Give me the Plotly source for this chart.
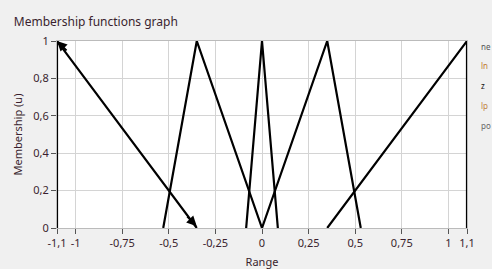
import plotly.graph_objects as go

# Membership function vertices (x: Range, y: Membership)
mf_names = ["ne", "ln", "z", "lp", "po"]
mf_x = [
    [-1.1, -1.1, -0.35],
    [-0.53, -0.35, 0.0],
    [-0.085, 0.0, 0.085],
    [0.0, 0.35, 0.53],
    [0.35, 1.1, 1.1],
]
mf_y = [
    [0, 1, 0],
    [0, 1, 0],
    [0, 1, 0],
    [0, 1, 0],
    [0, 1, 0],
]
legend_colors = ["#555555", "#c07a30", "#111111", "#c08040", "#666666"]

x_ticks = [-1.1, -1, -0.75, -0.5, -0.25, 0, 0.25, 0.5, 0.75, 1, 1.1]
x_tick_text = ["-1,1", "-1", "-0,75", "-0,5", "-0,25", "0", "0,25", "0,5", "0,75", "1", "1,1"]
y_ticks = [0, 0.2, 0.4, 0.6, 0.8, 1]
y_tick_text = ["0", "0,2", "0,4", "0,6", "0,8", "1"]

text_color = "#3a1f2e"
font_family = "Noto Sans, DejaVu Sans, sans-serif"

fig = go.Figure()
for name, xs, ys in zip(mf_names, mf_x, mf_y):
    fig.add_trace(go.Scatter(
        x=xs, y=ys, mode="lines", name=name,
        line=dict(color="#000000", width=2.2),
        showlegend=False, cliponaxis=False,
    ))

# cursor-like arrows on the first function
fig.add_annotation(x=-1.1, y=1, xref="x", yref="y", ax=11, ay=11,
                   showarrow=True, arrowhead=2, arrowsize=1, arrowwidth=2,
                   arrowcolor="#000000", text="")
fig.add_annotation(x=-0.35, y=0.01, xref="x", yref="y", ax=-11, ay=-11,
                   showarrow=True, arrowhead=2, arrowsize=1, arrowwidth=2,
                   arrowcolor="#000000", text="")

# legend-like labels on the right
for i, (name, col) in enumerate(zip(mf_names, legend_colors)):
    fig.add_annotation(x=1.03, y=0.973 - i * 0.106, xref="paper", yref="paper",
                       xanchor="left", yanchor="middle", showarrow=False,
                       text=name, font=dict(size=8, color=col, family=font_family))

fig.update_layout(
    width=492, height=269,
    margin=dict(l=57, r=25, t=41, b=41),
    paper_bgcolor="#f0f0f0", plot_bgcolor="#ffffff",
    title=dict(text="Membership functions graph", x=0.028, xanchor="left",
               y=0.918, yanchor="middle",
               font=dict(size=12, color=text_color, family=font_family)),
    font=dict(family=font_family, size=11, color=text_color),
)
fig.update_xaxes(
    range=[-1.1, 1.1], tickvals=x_ticks, ticktext=x_tick_text,
    showgrid=True, gridcolor="#d4d4d4", gridwidth=1,
    ticks="outside", ticklen=5, tickcolor="#555555",
    showline=True, linecolor="#bbbbbb", mirror=True, zeroline=False,
    automargin=False,
    title=dict(text="Range", standoff=9, font=dict(size=11, color=text_color)),
    tickfont=dict(size=11, color=text_color),
)
fig.update_yaxes(
    range=[0, 1], tickvals=y_ticks, ticktext=y_tick_text,
    showgrid=True, gridcolor="#d4d4d4", gridwidth=1,
    ticks="outside", ticklen=5, tickcolor="#555555",
    showline=True, linecolor="#bbbbbb", mirror=True, zeroline=False,
    automargin=False,
    title=dict(text="Membership (u)", standoff=8, font=dict(size=11, color=text_color)),
    tickfont=dict(size=11, color=text_color),
)

fig.write_html("out.html", config={"displayModeBar": False},
               post_script="document.body.style.margin='0';")
